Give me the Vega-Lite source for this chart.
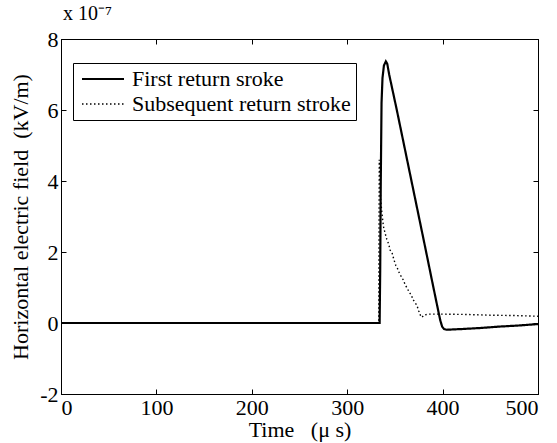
{
  "$schema": "https://vega.github.io/schema/vega-lite/v6.json",
  "width": 477,
  "height": 355,
  "autosize": "none",
  "padding": {"left": 61, "top": 39, "right": 19, "bottom": 49},
  "background": "white",
  "title": {"text": "x 10⁻⁷", "anchor": "start", "frame": "group", "font": "Liberation Serif", "fontSize": 20, "fontWeight": "normal", "color": "black", "offset": 4, "dx": 2},
  "datasets": {
    "series": [
      {"t": 0, "v": 0, "s": "First return sroke"},
      {"t": 334, "v": 0, "s": "First return sroke"},
      {"t": 334.6, "v": 1.5, "s": "First return sroke"},
      {"t": 335.2, "v": 4.0, "s": "First return sroke"},
      {"t": 336, "v": 6.2, "s": "First return sroke"},
      {"t": 337, "v": 6.9, "s": "First return sroke"},
      {"t": 338.5, "v": 7.25, "s": "First return sroke"},
      {"t": 340.5, "v": 7.37, "s": "First return sroke"},
      {"t": 342, "v": 7.3, "s": "First return sroke"},
      {"t": 344, "v": 7.0, "s": "First return sroke"},
      {"t": 352, "v": 6.0, "s": "First return sroke"},
      {"t": 362, "v": 4.7, "s": "First return sroke"},
      {"t": 372, "v": 3.4, "s": "First return sroke"},
      {"t": 382, "v": 2.1, "s": "First return sroke"},
      {"t": 390, "v": 1.05, "s": "First return sroke"},
      {"t": 395, "v": 0.4, "s": "First return sroke"},
      {"t": 397.5, "v": 0.08, "s": "First return sroke"},
      {"t": 399.5, "v": -0.1, "s": "First return sroke"},
      {"t": 401.5, "v": -0.17, "s": "First return sroke"},
      {"t": 404, "v": -0.19, "s": "First return sroke"},
      {"t": 420, "v": -0.17, "s": "First return sroke"},
      {"t": 440, "v": -0.14, "s": "First return sroke"},
      {"t": 460, "v": -0.1, "s": "First return sroke"},
      {"t": 480, "v": -0.07, "s": "First return sroke"},
      {"t": 500, "v": -0.03, "s": "First return sroke"},
      {"t": 0, "v": 0, "s": "Subsequent return stroke"},
      {"t": 333, "v": 0, "s": "Subsequent return stroke"},
      {"t": 333.3, "v": 2.2, "s": "Subsequent return stroke"},
      {"t": 333.6, "v": 4.6, "s": "Subsequent return stroke"},
      {"t": 334, "v": 4.4, "s": "Subsequent return stroke"},
      {"t": 334.5, "v": 3.9, "s": "Subsequent return stroke"},
      {"t": 335, "v": 3.5, "s": "Subsequent return stroke"},
      {"t": 336, "v": 3.2, "s": "Subsequent return stroke"},
      {"t": 337, "v": 2.95, "s": "Subsequent return stroke"},
      {"t": 338, "v": 2.72, "s": "Subsequent return stroke"},
      {"t": 339.5, "v": 2.55, "s": "Subsequent return stroke"},
      {"t": 341.5, "v": 2.36, "s": "Subsequent return stroke"},
      {"t": 343.5, "v": 2.22, "s": "Subsequent return stroke"},
      {"t": 345, "v": 2.05, "s": "Subsequent return stroke"},
      {"t": 347, "v": 1.98, "s": "Subsequent return stroke"},
      {"t": 349, "v": 1.78, "s": "Subsequent return stroke"},
      {"t": 351, "v": 1.62, "s": "Subsequent return stroke"},
      {"t": 353, "v": 1.52, "s": "Subsequent return stroke"},
      {"t": 355, "v": 1.38, "s": "Subsequent return stroke"},
      {"t": 357, "v": 1.3, "s": "Subsequent return stroke"},
      {"t": 359, "v": 1.2, "s": "Subsequent return stroke"},
      {"t": 361, "v": 1.06, "s": "Subsequent return stroke"},
      {"t": 363, "v": 0.98, "s": "Subsequent return stroke"},
      {"t": 365, "v": 0.86, "s": "Subsequent return stroke"},
      {"t": 367, "v": 0.8, "s": "Subsequent return stroke"},
      {"t": 369, "v": 0.66, "s": "Subsequent return stroke"},
      {"t": 371, "v": 0.58, "s": "Subsequent return stroke"},
      {"t": 373, "v": 0.5, "s": "Subsequent return stroke"},
      {"t": 375, "v": 0.34, "s": "Subsequent return stroke"},
      {"t": 377, "v": 0.2, "s": "Subsequent return stroke"},
      {"t": 378.5, "v": 0.16, "s": "Subsequent return stroke"},
      {"t": 380, "v": 0.22, "s": "Subsequent return stroke"},
      {"t": 385, "v": 0.25, "s": "Subsequent return stroke"},
      {"t": 400, "v": 0.25, "s": "Subsequent return stroke"},
      {"t": 425, "v": 0.24, "s": "Subsequent return stroke"},
      {"t": 450, "v": 0.22, "s": "Subsequent return stroke"},
      {"t": 475, "v": 0.21, "s": "Subsequent return stroke"},
      {"t": 500, "v": 0.19, "s": "Subsequent return stroke"}
    ]
  },
  "data": {"name": "series"},
  "layer": [
    {
      "mark": {"type": "line", "clip": true},
      "encoding": {
        "x": {"field": "t", "type": "quantitative", "scale": {"domain": [0, 500], "nice": false, "zero": false},
              "axis": {"orient": "bottom", "values": [0, 100, 200, 300, 400, 500], "title": "Time\u00a0\u00a0\u00a0(μ s)", "titlePadding": 1}},
        "y": {"field": "v", "type": "quantitative", "scale": {"domain": [-2, 8], "nice": false, "zero": false},
              "axis": {"orient": "left", "values": [-2, 0, 2, 4, 6, 8], "labelExpr": "datum.value + ''", "title": "Horizontal electric field\u00a0\u00a0(kV/m)", "titlePadding": 7}},
        "color": {"field": "s", "type": "nominal", "scale": {"domain": ["First return sroke", "Subsequent return stroke"], "range": ["black", "black"]}, "title": null},
        "strokeDash": {"field": "s", "type": "nominal", "scale": {"domain": ["First return sroke", "Subsequent return stroke"], "range": [[1, 0], [1.5, 2.5]]}, "title": null},
        "strokeWidth": {"field": "s", "type": "ordinal", "scale": {"domain": ["First return sroke", "Subsequent return stroke"], "range": [2.2, 1.4]}, "title": null},
        "order": {"field": "t", "type": "quantitative"}
      }
    },
    {
      "mark": {"type": "line", "opacity": 0},
      "encoding": {
        "x": {"field": "t", "type": "quantitative", "axis": {"orient": "top", "values": [0, 100, 200, 300, 400, 500], "labels": false, "title": null}},
        "y": {"field": "v", "type": "quantitative", "axis": {"orient": "right", "values": [-2, 0, 2, 4, 6, 8], "labels": false, "title": null}},
        "detail": {"field": "s", "type": "nominal"}
      }
    }
  ],
  "resolve": {"axis": {"x": "independent", "y": "independent"}},
  "config": {
    "view": {"stroke": "black", "strokeWidth": 1},
    "font": "Liberation Serif",
    "axis": {
      "grid": false,
      "domainColor": "black",
      "tickColor": "black",
      "labelColor": "black",
      "titleColor": "black",
      "labelFont": "Liberation Serif",
      "titleFont": "Liberation Serif",
      "labelFontSize": 22,
      "titleFontSize": 22,
      "titleFontWeight": "normal",
      "tickSize": -5,
      "labelPadding": 8
    },
    "legend": {
      "orient": "none",
      "legendX": 12,
      "legendY": 24,
      "fillColor": "white",
      "strokeColor": "black",
      "strokeWidth": 1,
      "cornerRadius": 0,
      "padding": 5,
      "labelFont": "Liberation Serif",
      "labelFontSize": 22,
      "labelColor": "black",
      "symbolType": "M-3,0H3",
      "symbolSize": 196,
      "symbolOffset": 14,
      "labelOffset": 18,
      "rowPadding": 3,
      "labelLimit": 400
    }
  }
}
